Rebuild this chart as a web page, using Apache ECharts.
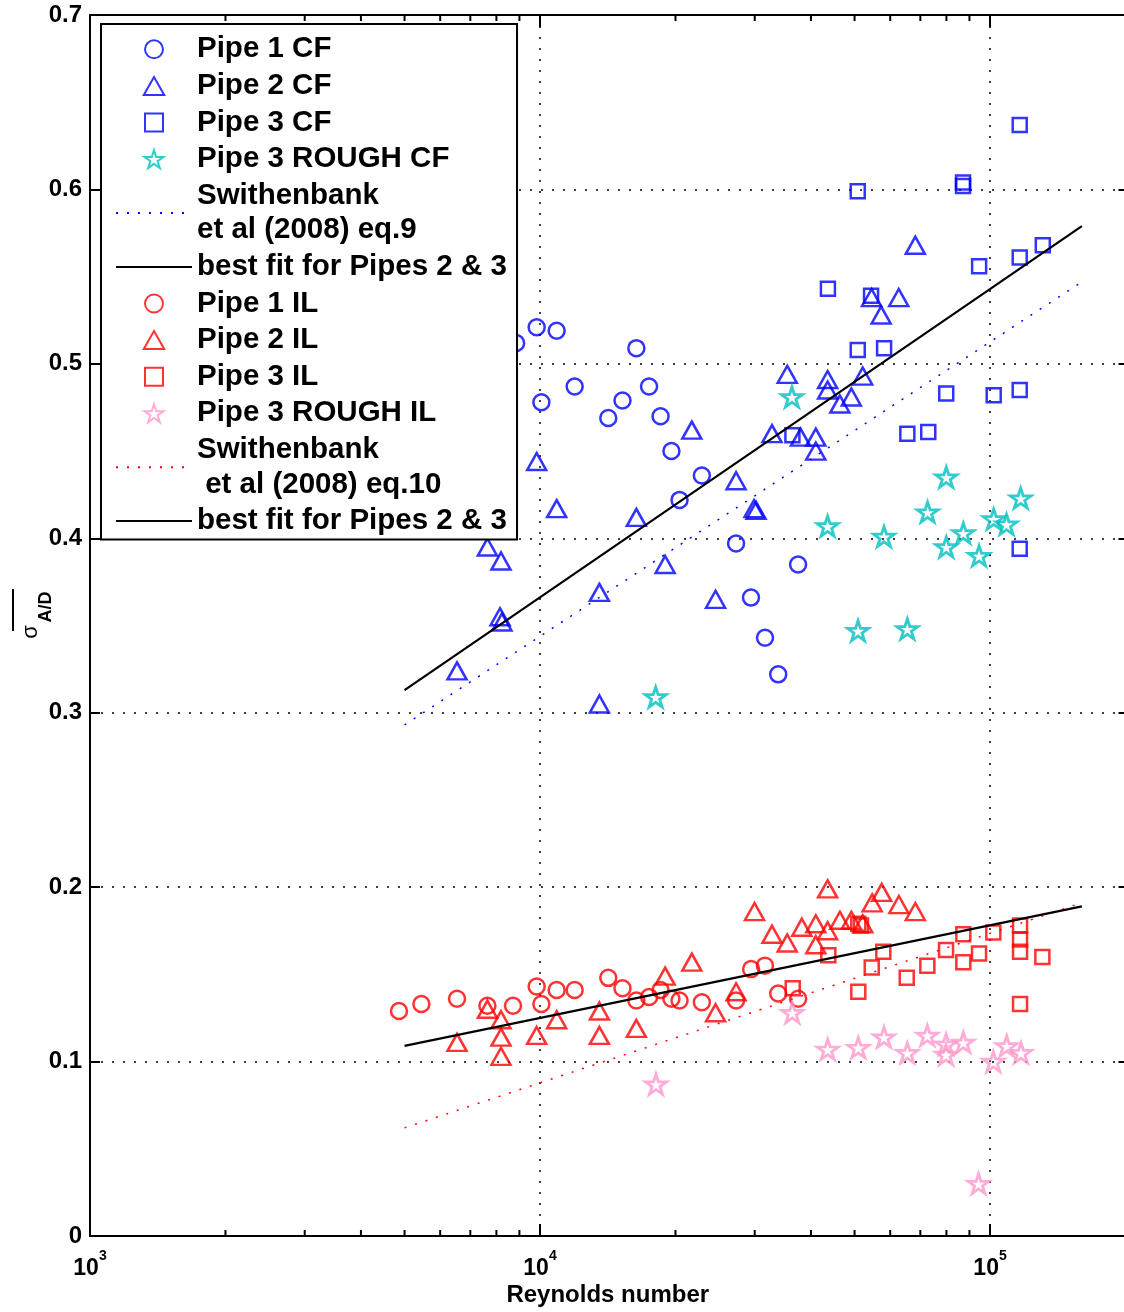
<!DOCTYPE html>
<html>
<head>
<meta charset="utf-8">
<script src="https://cdn.jsdelivr.net/npm/echarts@6.0.0/dist/echarts.min.js"></script>
<style>
html,body{margin:0;padding:0;background:#fff;}
#chart{width:1124px;height:1312px;}
</style>
</head>
<body>
<div id="chart"></div>
<script>
// ---- data: [Reynolds number, sigma_A/D] ----
const pipe1CF = [[8850,0.512],[9830,0.521],[10890,0.519],[16370,0.509],[11940,0.487],[10070,0.478],[17470,0.487],[15250,0.479],[14180,0.469],[18530,0.470],[19590,0.450],[22890,0.436],[20420,0.422],[27270,0.397],[37450,0.385],[29430,0.366],[31620,0.343],[33830,0.322]];
const pipe2CF = [[6540,0.324],[7640,0.395],[8190,0.387],[8150,0.355],[8230,0.352],[9830,0.444],[10890,0.417],[13550,0.305],[13550,0.369],[16370,0.412],[18970,0.385],[21740,0.462],[24550,0.365],[27270,0.433],[29890,0.417],[30200,0.416],[35430,0.494],[32770,0.460],[37920,0.458],[41000,0.458],[41000,0.450],[43560,0.491],[43560,0.485],[46380,0.477],[49180,0.481],[52120,0.493],[54540,0.538],[62680,0.538],[57280,0.528],[68230,0.568]];
const pipe3CF = [[116400,0.637],[50820,0.599],[87100,0.604],[87100,0.602],[94570,0.556],[116400,0.561],[131000,0.568],[43630,0.543],[54400,0.539],[50820,0.508],[58160,0.509],[79930,0.483],[101900,0.482],[116400,0.485],[65500,0.460],[72900,0.461],[36380,0.459],[116400,0.394]];
const pipe3RoughCF = [[36290,0.481],[43560,0.407],[58120,0.401],[50890,0.347],[65500,0.348],[18070,0.309],[79930,0.435],[72660,0.415],[117000,0.423],[79930,0.395],[87230,0.403],[94530,0.390],[101900,0.411],[108800,0.408]];
const pipe1IL = [[4860,0.129],[5450,0.133],[6540,0.136],[7640,0.132],[8710,0.132],[9830,0.143],[10070,0.133],[10890,0.141],[11940,0.141],[14180,0.148],[15250,0.142],[16370,0.135],[17480,0.137],[18530,0.141],[19590,0.136],[20420,0.135],[22890,0.134],[27270,0.135],[29450,0.153],[31610,0.155],[33830,0.139],[37470,0.136]];
const pipe2IL = [[6540,0.111],[7640,0.130],[8190,0.124],[8190,0.114],[8190,0.103],[9830,0.115],[10890,0.124],[13550,0.129],[13550,0.115],[16370,0.119],[18970,0.149],[21740,0.157],[24550,0.128],[27270,0.140],[29970,0.186],[32770,0.173],[35430,0.168],[38170,0.177],[41000,0.179],[41000,0.167],[43560,0.199],[43560,0.175],[46380,0.181],[49180,0.181],[52120,0.179],[54730,0.191],[57440,0.197],[62720,0.190],[68230,0.186]];
const pipe3IL = [[43720,0.161],[50960,0.179],[51670,0.178],[57920,0.163],[54590,0.154],[50960,0.140],[36440,0.142],[65300,0.148],[72560,0.155],[79850,0.164],[87230,0.173],[87230,0.157],[94530,0.162],[101700,0.174],[116600,0.178],[116600,0.170],[116600,0.163],[116600,0.133],[130700,0.160]];
const pipe3RoughIL = [[18100,0.087],[36360,0.128],[43580,0.107],[50960,0.108],[58120,0.114],[65500,0.105],[72560,0.115],[79850,0.110],[79850,0.104],[87230,0.111],[101700,0.100],[108900,0.109],[117200,0.105],[94290,0.030]];
const swithenbankEq9 = [[5000,0.293],[160000,0.547]];
const bestFitCF = [[5000,0.313],[160000,0.579]];
const swithenbankEq10 = [[5000,0.062],[160000,0.191]];
const bestFitIL = [[5000,0.109],[160000,0.189]];

// axis / tick definitions
const xMin = 1000, xMax = 200000;
const yMin = 0, yMax = 0.7, yStep = 0.1;
const minorTickValues = [2000,3000,4000,5000,6000,7000,8000,9000,20000,30000,40000,50000,60000,70000,80000,90000];

const names = {
  p1cf: 'Pipe 1 CF', p2cf: 'Pipe 2 CF', p3cf: 'Pipe 3 CF', p3rcf: 'Pipe 3 ROUGH CF',
  sw9: 'Swithenbank\net al (2008) eq.9', fitcf: 'best fit for Pipes 2 & 3',
  p1il: 'Pipe 1 IL', p2il: 'Pipe 2 IL', p3il: 'Pipe 3 IL', p3ril: 'Pipe 3 ROUGH IL',
  sw10: 'Swithenbank\n et al (2008) eq.10', fitil: 'best fit for Pipes 2 & 3 '
};

const FONT = 'Liberation Sans, Arial, Helvetica, sans-serif';
const BLUE = '#0000ff', RED = '#ff0000', TEAL = '#00bfbf', PINK = '#ff99cc';
const STAR = 'path://M50 0 L61.23 34.55 L97.55 34.55 L68.16 55.9 L79.39 90.45 L50 69.1 L20.61 90.45 L31.84 55.9 L2.45 34.55 L38.77 34.55 Z';
const TRI = 'path://M50 0 L100 88 L0 88 Z';
const SQR = 'path://M0 0 L100 0 L100 100 L0 100 Z';

function scatter(name, data, symbol, size, color, bw) {
  return {
    type: 'scatter', name, data, symbol, symbolSize: size,
    itemStyle: { color: 'rgba(0,0,0,0)', borderColor: color, borderWidth: bw },
    emphasis: { disabled: true }, z: 2
  };
}
function line(name, data, color, width, type) {
  return {
    type: 'line', name, data, symbol: 'none', showSymbol: false,
    itemStyle: { color: 'rgba(0,0,0,0)', borderWidth: 0 },
    lineStyle: { color, width, type }, emphasis: { disabled: true }, z: 3
  };
}

const chart = echarts.init(document.getElementById('chart'), null, { renderer: 'canvas' });

const option = {
  animation: false,
  backgroundColor: '#fff',
  grid: { left: 90, right: -1.5, top: 15, bottom: 76, containLabel: false, outerBoundsMode: 'none' },
  xAxis: [
    {
      type: 'log', logBase: 10, min: xMin, max: xMax, splitNumber: 3, position: 'bottom',
      axisLine: { show: true, onZero: false, lineStyle: { color: '#000', width: 2 } },
      axisTick: { show: true, inside: true, length: 12, lineStyle: { color: '#000', width: 2 } },
      axisLabel: {
        margin: 21,
        formatter: function (v) {
          const e = Math.round(Math.log10(v));
          if (Math.abs(Math.pow(10, e) - v) / v > 1e-6) return '';
          return '{b|10}{s|' + e + '}';
        },
        rich: {
          b: { fontSize: 23, fontWeight: 'bold', fontFamily: FONT, color: '#000', lineHeight: 24, verticalAlign: 'middle' },
          s: { fontSize: 14, fontWeight: 'bold', fontFamily: FONT, color: '#000', lineHeight: 14, padding: [0, 0, 26, 0], verticalAlign: 'middle' }
        }
      },
      splitLine: { show: true, lineStyle: { color: '#000', width: 1.5, type: [2, 9] } },
      name: 'Reynolds number', nameLocation: 'middle', nameGap: 47, nameMoveOverlap: false,
      nameTextStyle: { fontSize: 24, fontWeight: 'bold', fontFamily: FONT, color: '#000' }
    },
    {
      type: 'log', logBase: 10, min: xMin, max: xMax, splitNumber: 3, position: 'top',
      axisLine: { show: true, onZero: false, lineStyle: { color: '#000', width: 2 } },
      axisTick: { show: true, inside: true, length: 12, lineStyle: { color: '#000', width: 2 } },
      axisLabel: { show: false }, splitLine: { show: false }
    }
  ],
  yAxis: [
    {
      type: 'value', min: yMin, max: yMax, interval: yStep, position: 'left',
      axisLine: { show: true, onZero: false, lineStyle: { color: '#000', width: 2 } },
      axisTick: { show: true, inside: true, length: 10, lineStyle: { color: '#000', width: 2 } },
      axisLabel: {
        margin: 8, fontSize: 24, fontWeight: 'bold', fontFamily: FONT, color: '#000',
        formatter: v => (Math.abs(v) < 1e-9 ? '0' : v.toFixed(1))
      },
      splitLine: { show: true, lineStyle: { color: '#000', width: 1.5, type: [2, 9] } }
    },
    {
      type: 'value', min: yMin, max: yMax, interval: yStep, position: 'right',
      axisLine: { show: true, onZero: false, lineStyle: { color: '#000', width: 2 } },
      axisTick: { show: true, inside: true, length: 7, lineStyle: { color: '#000', width: 2 } },
      axisLabel: { show: false }, splitLine: { show: false }
    }
  ],
  legend: {
    data: [names.p1cf, names.p2cf, names.p3cf, names.p3rcf, names.sw9, names.fitcf,
           names.p1il, names.p2il, names.p3il, names.p3ril, names.sw10, names.fitil],
    orient: 'vertical', left: 101, top: 24,
    itemWidth: 76, itemHeight: 18, itemGap: 2,
    padding: [8, 2, 1, 14],
    symbolKeepAspect: true,
    backgroundColor: '#fff', borderColor: '#000', borderWidth: 2, borderRadius: 0,
    textStyle: { fontSize: 29.5, fontWeight: 'bold', fontFamily: FONT, color: '#000', lineHeight: 34.6 },
    selectedMode: false, z: 10
  },
  graphic: [
    { type: 'line', shape: { x1: 13, y1: 589, x2: 13, y2: 631 }, style: { stroke: '#000', lineWidth: 2 } },
    { type: 'text', x: 31, y: 632, rotation: Math.PI / 2,
      style: { text: 'σ', fontSize: 22, fontFamily: FONT, fill: '#000', align: 'center', verticalAlign: 'middle' } },
    { type: 'text', x: 46, y: 607, rotation: Math.PI / 2,
      style: { text: 'A/D', fontSize: 18, fontWeight: 'bold', fontFamily: FONT, fill: '#000', align: 'center', verticalAlign: 'middle' } }
  ],
  series: [
    scatter(names.p1cf, pipe1CF, 'circle', 16, BLUE, 2.5),
    scatter(names.p2cf, pipe2CF, TRI, [19, 17], BLUE, 2.5),
    scatter(names.p3cf, pipe3CF, SQR, 14, BLUE, 2.5),
    scatter(names.p3rcf, pipe3RoughCF, STAR, [21, 20], TEAL, 2.8),
    scatter(names.p1il, pipe1IL, 'circle', 16, RED, 2.5),
    scatter(names.p2il, pipe2IL, TRI, [19, 17], RED, 2.5),
    scatter(names.p3il, pipe3IL, SQR, 14, RED, 2.5),
    scatter(names.p3ril, pipe3RoughIL, STAR, [21, 20], PINK, 2.8),
    line(names.sw9, swithenbankEq9, BLUE, 1.5, [2, 9]),
    line(names.fitcf, bestFitCF, '#000', 2.2, 'solid'),
    line(names.sw10, swithenbankEq10, RED, 1.5, [2, 9]),
    line(names.fitil, bestFitIL, '#000', 2.2, 'solid'),
    {
      type: 'custom', name: 'minorTicks', xAxisIndex: 0, yAxisIndex: 0, silent: true, z: 3, clip: false,
      data: minorTickValues.map(v => [v, yMin]),
      renderItem: function (params, api) {
        const v = api.value(0);
        const b = api.coord([v, yMin]);
        const t = api.coord([v, yMax]);
        return {
          type: 'group',
          children: [
            { type: 'line', shape: { x1: b[0], y1: b[1], x2: b[0], y2: b[1] - 6 }, style: { stroke: '#000', lineWidth: 2 } },
            { type: 'line', shape: { x1: t[0], y1: t[1], x2: t[0], y2: t[1] + 6 }, style: { stroke: '#000', lineWidth: 2 } }
          ]
        };
      }
    }
  ]
};
chart.setOption(option);
</script>
</body>
</html>
